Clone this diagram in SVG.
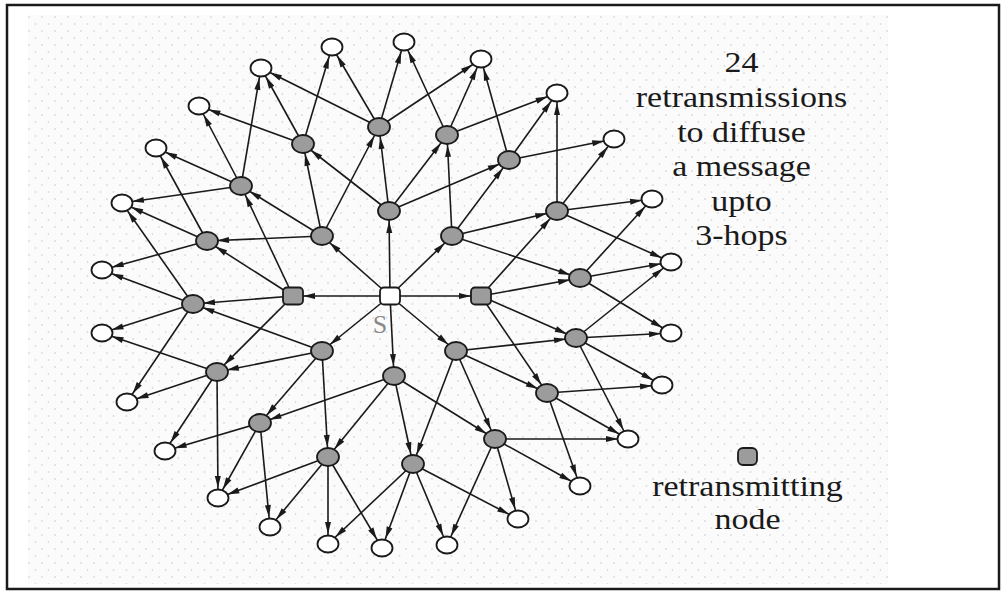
<svg xmlns="http://www.w3.org/2000/svg" width="1005" height="592" viewBox="0 0 1005 592">
  <style>
    .e { stroke: #1a1a1a; stroke-width: 1.6; fill: none; marker-end: url(#ah); }
    .w { fill: #ffffff; stroke: #1a1a1a; stroke-width: 1.8; }
    .g { fill: #9c9c9c; stroke: #1a1a1a; stroke-width: 1.8; }
    .t { font-family: "Liberation Serif", "Times New Roman", serif; font-size: 34px; fill: #1a1a1a; text-anchor: middle; }
  </style>
  <defs>
    <marker id="ah" viewBox="0 0 12 6" markerWidth="12" markerHeight="6" refX="22" refY="3" orient="auto" markerUnits="userSpaceOnUse" overflow="visible">
      <path d="M0,0 L12,3 L0,6 z" fill="#1a1a1a"/>
    </marker>
    <pattern id="dots" width="13" height="14" patternUnits="userSpaceOnUse">
      <circle cx="3" cy="3" r="0.9" fill="#dadada"/>
      <circle cx="9.5" cy="10" r="0.9" fill="#dadada"/>
    </pattern>
    <!-- node shapes: plain receiver, retransmitter, square variant -->
    <ellipse id="wn" rx="10.5" ry="8.5" class="w"/>
    <ellipse id="gn" rx="11" ry="9" class="g"/>
    <rect id="gs" x="-10" y="-8.5" width="20" height="17" rx="4" class="g"/>
  </defs>

  <!-- frame and dotted backdrop -->
  <rect x="0" y="0" width="1005" height="592" fill="#ffffff"/>
  <rect x="28" y="15" width="860" height="569" fill="#fbfbfb"/>
  <rect x="28" y="15" width="860" height="569" fill="url(#dots)"/>
  <rect x="7" y="5" width="992" height="584" fill="none" stroke="#1a1a1a" stroke-width="2.5"/>

  <g id="connectors">
    <!-- source to first hop -->
    <line class="e" x1="390" y1="296" x2="389" y2="211"/>
    <line class="e" x1="390" y1="296" x2="452" y2="236"/>
    <line class="e" x1="390" y1="296" x2="481" y2="296"/>
    <line class="e" x1="390" y1="296" x2="456" y2="351"/>
    <line class="e" x1="390" y1="296" x2="394" y2="376"/>
    <line class="e" x1="390" y1="296" x2="322" y2="351"/>
    <line class="e" x1="390" y1="296" x2="293" y2="296"/>
    <line class="e" x1="390" y1="296" x2="322" y2="236"/>

    <!-- first hop to second hop -->
    <line class="e" x1="389" y1="211" x2="303" y2="144"/>
    <line class="e" x1="389" y1="211" x2="379" y2="127"/>
    <line class="e" x1="389" y1="211" x2="447" y2="135"/>
    <line class="e" x1="389" y1="211" x2="509" y2="160"/>

    <line class="e" x1="452" y1="236" x2="447" y2="135"/>
    <line class="e" x1="452" y1="236" x2="509" y2="160"/>
    <line class="e" x1="452" y1="236" x2="557" y2="211"/>
    <line class="e" x1="452" y1="236" x2="580" y2="278"/>

    <line class="e" x1="481" y1="296" x2="557" y2="211"/>
    <line class="e" x1="481" y1="296" x2="580" y2="278"/>
    <line class="e" x1="481" y1="296" x2="576" y2="338"/>
    <line class="e" x1="481" y1="296" x2="547" y2="393"/>

    <line class="e" x1="456" y1="351" x2="576" y2="338"/>
    <line class="e" x1="456" y1="351" x2="547" y2="393"/>
    <line class="e" x1="456" y1="351" x2="495" y2="439"/>
    <line class="e" x1="456" y1="351" x2="413" y2="464"/>

    <line class="e" x1="394" y1="376" x2="495" y2="439"/>
    <line class="e" x1="394" y1="376" x2="413" y2="464"/>
    <line class="e" x1="394" y1="376" x2="328" y2="457"/>
    <line class="e" x1="394" y1="376" x2="260" y2="423"/>

    <line class="e" x1="322" y1="351" x2="328" y2="457"/>
    <line class="e" x1="322" y1="351" x2="260" y2="423"/>
    <line class="e" x1="322" y1="351" x2="217" y2="372"/>
    <line class="e" x1="322" y1="351" x2="193" y2="304"/>

    <line class="e" x1="293" y1="296" x2="217" y2="372"/>
    <line class="e" x1="293" y1="296" x2="193" y2="304"/>
    <line class="e" x1="293" y1="296" x2="207" y2="241"/>
    <line class="e" x1="293" y1="296" x2="241" y2="186"/>

    <line class="e" x1="322" y1="236" x2="207" y2="241"/>
    <line class="e" x1="322" y1="236" x2="241" y2="186"/>
    <line class="e" x1="322" y1="236" x2="303" y2="144"/>
    <line class="e" x1="322" y1="236" x2="379" y2="127"/>

    <!-- second hop to outer ring -->
    <line class="e" x1="379" y1="127" x2="261" y2="68"/>
    <line class="e" x1="379" y1="127" x2="332" y2="47"/>
    <line class="e" x1="379" y1="127" x2="404" y2="42"/>
    <line class="e" x1="379" y1="127" x2="481" y2="59"/>

    <line class="e" x1="447" y1="135" x2="404" y2="42"/>
    <line class="e" x1="447" y1="135" x2="481" y2="59"/>
    <line class="e" x1="447" y1="135" x2="557" y2="93"/>

    <line class="e" x1="509" y1="160" x2="481" y2="59"/>
    <line class="e" x1="509" y1="160" x2="557" y2="93"/>
    <line class="e" x1="509" y1="160" x2="614" y2="139"/>

    <line class="e" x1="557" y1="211" x2="557" y2="93"/>
    <line class="e" x1="557" y1="211" x2="614" y2="139"/>
    <line class="e" x1="557" y1="211" x2="652" y2="199"/>
    <line class="e" x1="557" y1="211" x2="671" y2="262"/>

    <line class="e" x1="580" y1="278" x2="652" y2="199"/>
    <line class="e" x1="580" y1="278" x2="671" y2="262"/>
    <line class="e" x1="580" y1="278" x2="671" y2="333"/>

    <line class="e" x1="576" y1="338" x2="671" y2="262"/>
    <line class="e" x1="576" y1="338" x2="671" y2="333"/>
    <line class="e" x1="576" y1="338" x2="662" y2="385"/>
    <line class="e" x1="576" y1="338" x2="628" y2="439"/>

    <line class="e" x1="547" y1="393" x2="662" y2="385"/>
    <line class="e" x1="547" y1="393" x2="628" y2="439"/>
    <line class="e" x1="547" y1="393" x2="580" y2="486"/>

    <line class="e" x1="495" y1="439" x2="628" y2="439"/>
    <line class="e" x1="495" y1="439" x2="580" y2="486"/>
    <line class="e" x1="495" y1="439" x2="518" y2="519"/>
    <line class="e" x1="495" y1="439" x2="447" y2="545"/>

    <line class="e" x1="413" y1="464" x2="518" y2="519"/>
    <line class="e" x1="413" y1="464" x2="447" y2="545"/>
    <line class="e" x1="413" y1="464" x2="382" y2="548"/>
    <line class="e" x1="413" y1="464" x2="328" y2="544"/>

    <line class="e" x1="328" y1="457" x2="382" y2="548"/>
    <line class="e" x1="328" y1="457" x2="328" y2="544"/>
    <line class="e" x1="328" y1="457" x2="270" y2="527"/>
    <line class="e" x1="328" y1="457" x2="218" y2="498"/>

    <line class="e" x1="260" y1="423" x2="270" y2="527"/>
    <line class="e" x1="260" y1="423" x2="218" y2="498"/>
    <line class="e" x1="260" y1="423" x2="165" y2="451"/>

    <line class="e" x1="217" y1="372" x2="218" y2="498"/>
    <line class="e" x1="217" y1="372" x2="165" y2="451"/>
    <line class="e" x1="217" y1="372" x2="127" y2="402"/>
    <line class="e" x1="217" y1="372" x2="102" y2="333"/>

    <line class="e" x1="193" y1="304" x2="127" y2="402"/>
    <line class="e" x1="193" y1="304" x2="102" y2="333"/>
    <line class="e" x1="193" y1="304" x2="102" y2="270"/>
    <line class="e" x1="193" y1="304" x2="122" y2="203"/>

    <line class="e" x1="207" y1="241" x2="102" y2="270"/>
    <line class="e" x1="207" y1="241" x2="122" y2="203"/>
    <line class="e" x1="207" y1="241" x2="156" y2="148"/>

    <line class="e" x1="241" y1="186" x2="122" y2="203"/>
    <line class="e" x1="241" y1="186" x2="156" y2="148"/>
    <line class="e" x1="241" y1="186" x2="199" y2="106"/>
    <line class="e" x1="241" y1="186" x2="261" y2="68"/>

    <line class="e" x1="303" y1="144" x2="199" y2="106"/>
    <line class="e" x1="303" y1="144" x2="261" y2="68"/>
    <line class="e" x1="303" y1="144" x2="332" y2="47"/>
  </g>

  <!-- source -->
  <g id="s"><rect x="380" y="287.5" width="20" height="17" rx="4" class="w"/></g>

  <!-- first hop -->
  <g id="a1"><use href="#gn" x="389" y="211"/></g>
  <g id="a2"><use href="#gn" x="452" y="236"/></g>
  <g id="a3"><use href="#gs" x="481" y="296"/></g>
  <g id="a4"><use href="#gn" x="456" y="351"/></g>
  <g id="a5"><use href="#gn" x="394" y="376"/></g>
  <g id="a6"><use href="#gn" x="322" y="351"/></g>
  <g id="a7"><use href="#gs" x="293" y="296"/></g>
  <g id="a8"><use href="#gn" x="322" y="236"/></g>

  <!-- second hop -->
  <g id="b1"><use href="#gn" x="379" y="127"/></g>
  <g id="b2"><use href="#gn" x="447" y="135"/></g>
  <g id="b3"><use href="#gn" x="509" y="160"/></g>
  <g id="b4"><use href="#gn" x="557" y="211"/></g>
  <g id="b5"><use href="#gn" x="580" y="278"/></g>
  <g id="b6"><use href="#gn" x="576" y="338"/></g>
  <g id="b7"><use href="#gn" x="547" y="393"/></g>
  <g id="b8"><use href="#gn" x="495" y="439"/></g>
  <g id="b9"><use href="#gn" x="413" y="464"/></g>
  <g id="b10"><use href="#gn" x="328" y="457"/></g>
  <g id="b11"><use href="#gn" x="260" y="423"/></g>
  <g id="b12"><use href="#gn" x="217" y="372"/></g>
  <g id="b13"><use href="#gn" x="193" y="304"/></g>
  <g id="b14"><use href="#gn" x="207" y="241"/></g>
  <g id="b15"><use href="#gn" x="241" y="186"/></g>
  <g id="b16"><use href="#gn" x="303" y="144"/></g>

  <!-- outer ring -->
  <g id="w1"><use href="#wn" x="332" y="47"/></g>
  <g id="w2"><use href="#wn" x="404" y="42"/></g>
  <g id="w3"><use href="#wn" x="481" y="59"/></g>
  <g id="w4"><use href="#wn" x="557" y="93"/></g>
  <g id="w5"><use href="#wn" x="614" y="139"/></g>
  <g id="w6"><use href="#wn" x="652" y="199"/></g>
  <g id="w7"><use href="#wn" x="671" y="262"/></g>
  <g id="w8"><use href="#wn" x="671" y="333"/></g>
  <g id="w9"><use href="#wn" x="662" y="385"/></g>
  <g id="w10"><use href="#wn" x="628" y="439"/></g>
  <g id="w11"><use href="#wn" x="580" y="486"/></g>
  <g id="w12"><use href="#wn" x="518" y="519"/></g>
  <g id="w13"><use href="#wn" x="447" y="545"/></g>
  <g id="w14"><use href="#wn" x="382" y="548"/></g>
  <g id="w15"><use href="#wn" x="328" y="544"/></g>
  <g id="w16"><use href="#wn" x="270" y="527"/></g>
  <g id="w17"><use href="#wn" x="218" y="498"/></g>
  <g id="w18"><use href="#wn" x="165" y="451"/></g>
  <g id="w19"><use href="#wn" x="127" y="402"/></g>
  <g id="w20"><use href="#wn" x="102" y="333"/></g>
  <g id="w21"><use href="#wn" x="102" y="270"/></g>
  <g id="w22"><use href="#wn" x="122" y="203"/></g>
  <g id="w23"><use href="#wn" x="156" y="148"/></g>
  <g id="w24"><use href="#wn" x="199" y="106"/></g>
  <g id="w25"><use href="#wn" x="261" y="68"/></g>

  <!-- source label -->
  <text x="380" y="333" font-family="Liberation Serif, Times New Roman, serif" font-size="26" fill="#8a8a8a" text-anchor="middle">S</text>

  <!-- caption -->
  <g id="caption">
    <text class="t" transform="translate(741.5,72) scale(1,0.84)">24</text>
    <text class="t" transform="translate(741.5,107) scale(1,0.84)">retransmissions</text>
    <text class="t" transform="translate(741.5,142) scale(1,0.84)">to diffuse</text>
    <text class="t" transform="translate(741.5,176) scale(1,0.84)">a message</text>
    <text class="t" transform="translate(741.5,211) scale(1,0.84)">upto</text>
    <text class="t" transform="translate(741.5,245) scale(1,0.84)">3-hops</text>
  </g>

  <!-- legend -->
  <g id="legend">
    <rect x="738" y="448" width="19" height="17" rx="5" class="g"/>
    <text class="t" transform="translate(747.5,496) scale(1,0.84)">retransmitting</text>
    <text class="t" transform="translate(747.5,529) scale(1,0.84)">node</text>
  </g>
</svg>
